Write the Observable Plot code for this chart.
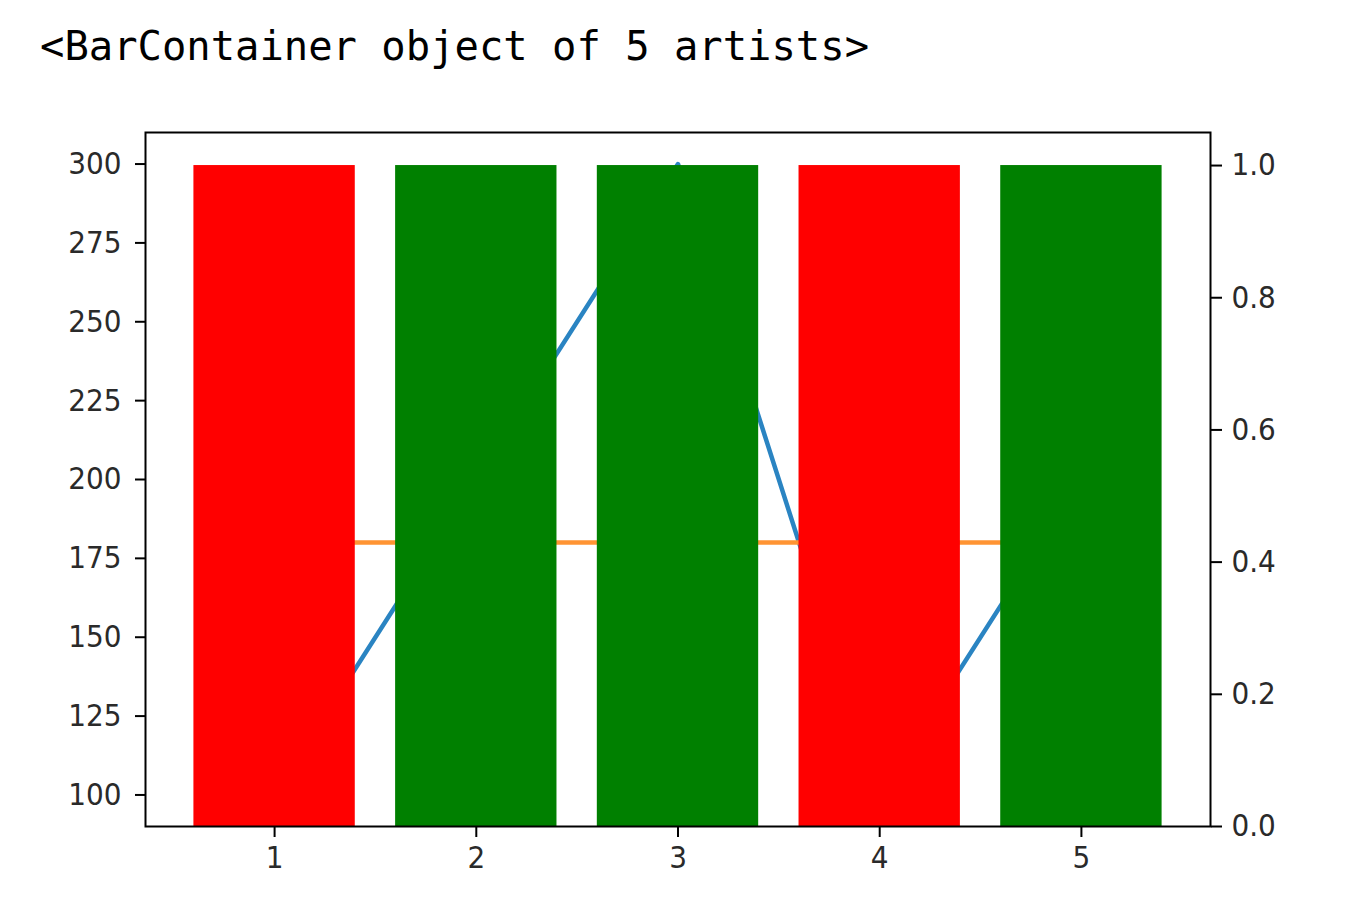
<!DOCTYPE html>
<html>
<head>
<meta charset="utf-8">
<script src="https://cdn.jsdelivr.net/npm/d3@7"></script>
<script src="https://cdn.jsdelivr.net/npm/@observablehq/plot@0.6"></script>
<style>
  html, body { margin: 0; padding: 0; background: #fff; }
  #wrap { position: relative; width: 1346px; height: 910px; }
  #title { position: absolute; left: 40px; top: 24px; font-family: "DejaVu Sans Mono", monospace; font-size: 40.5px; color: #000; white-space: pre; line-height: 1.1; }
  .layer { position: absolute; left: 0; top: 100px; }
</style>
</head>
<body>
<div id="wrap">
  <div id="title">&lt;BarContainer object of 5 artists&gt;</div>
  <div id="lines" class="layer"></div>
  <div id="bars" class="layer"></div>
</div>
<script>
const xs = [1, 2, 3, 4, 5];
const values = [100, 200, 300, 100, 200];
const barHeights = [1, 1, 1, 1, 1];
const leftTicks = [100, 125, 150, 175, 200, 225, 250, 275, 300];
const rightTicks = [0.0, 0.2, 0.4, 0.6, 0.8, 1.0];
const xTicks = [1, 2, 3, 4, 5];

const mean = d3.mean(values);
const lineData = xs.map((x, i) => ({x, v: values[i], m: mean}));
const barData = xs.map((x, i) => ({x, h: barHeights[i], color: values[i] < mean ? "red" : "green"}));

const W = 1346, H = 810;
const common = {
  width: W, height: H,
  marginLeft: 145, marginRight: 136, marginTop: 32, marginBottom: 84,
  style: {background: "transparent", fontFamily: "'DejaVu Sans Condensed', 'DejaVu Sans', sans-serif", fontSize: "31px", color: "#2a2a2a"},
  x: {domain: [0.36, 5.64], axis: null}
};

const p1 = Plot.plot({
  ...common,
  y: {domain: [90, 310], axis: null},
  marks: [
    Plot.line(lineData, {x: "x", y: "v", stroke: "#2a84c2", strokeWidth: 4.5}),
    Plot.line(lineData, {x: "x", y: "m", stroke: "#ff9433", strokeWidth: 4.5}),
    Plot.axisY({ticks: leftTicks, anchor: "left", tickSize: 10, tickPadding: 14, tickFormat: d => String(d), label: null, strokeWidth: 2, stroke: "#000"})
  ]
});
document.getElementById("lines").appendChild(p1);

const p2 = Plot.plot({
  ...common,
  y: {domain: [0, 1.05], axis: null},
  marks: [
    Plot.rectY(barData, {x1: d => d.x - 0.4, x2: d => d.x + 0.4, y1: 0, y2: "h", fill: "color"}),
    Plot.axisY({ticks: rightTicks, anchor: "right", tickSize: 11, tickPadding: 10, tickFormat: d => d.toFixed(1), label: null, strokeWidth: 2, stroke: "#000"}),
    Plot.axisX({ticks: xTicks, anchor: "bottom", tickSize: 11, tickPadding: 8, tickFormat: d => String(d), label: null, strokeWidth: 2, stroke: "#000"}),
    Plot.frame({stroke: "#000", strokeWidth: 2})
  ]
});
document.getElementById("bars").appendChild(p2);
</script>
</body>
</html>
